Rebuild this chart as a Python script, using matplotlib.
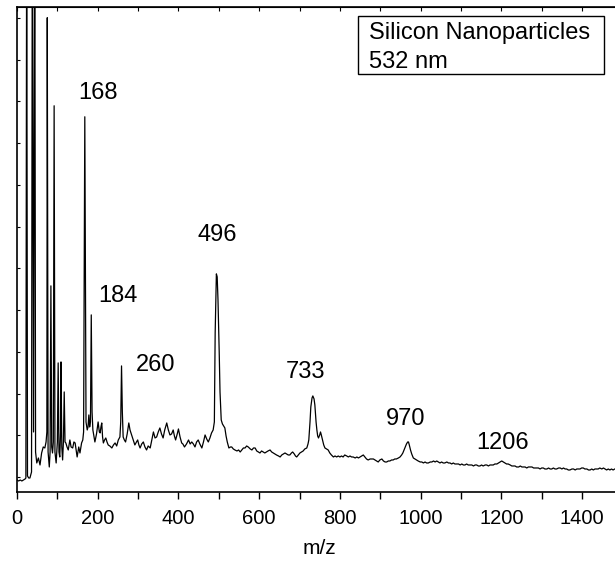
import matplotlib

matplotlib.use("Agg")
import matplotlib.pyplot as plt
import numpy as np
from matplotlib.patches import Rectangle

plt.rcParams["font.family"] = ["Liberation Sans", "DejaVu Sans"]

# spectrum: m/z and intensity (arbitrary units)
mz = [
    0, 4, 8, 12, 16, 20, 22, 24, 26, 29, 32, 36, 38, 41, 44, 46, 49, 53, 57, 61,
    65, 69, 72, 74, 75, 77, 80, 82, 84, 86, 88, 90, 92, 94, 97, 100, 102, 104, 106, 108,
    109, 111, 113, 115, 117, 119, 121, 124, 127, 131, 134, 138, 141, 144, 149, 153, 156, 160, 163, 165,
    168, 171, 174, 176, 178, 180, 182, 184, 186, 188, 191, 193, 197, 201, 204, 206, 208, 210, 212, 214,
    217, 220, 223, 226, 230, 235, 239, 243, 247, 251, 255, 257, 259, 261, 263, 266, 269, 273, 277, 280,
    284, 288, 292, 296, 299, 302, 305, 309, 313, 317, 321, 325, 330, 334, 338, 342, 346, 350, 354, 358,
    362, 366, 371, 375, 379, 383, 387, 390, 393, 397, 400, 404, 408, 411, 415, 420, 425, 429, 433, 437,
    441, 445, 449, 453, 458, 462, 466, 470, 474, 478, 482, 486, 489, 491, 494, 496, 498, 501, 503, 506,
    509, 512, 515, 518, 521, 525, 529, 532, 536, 540, 545, 549, 553, 557, 561, 565, 569, 573, 578, 582,
    586, 590, 594, 598, 602, 606, 610, 614, 618, 622, 627, 631, 635, 639, 643, 648, 652, 656, 660, 664,
    668, 672, 676, 680, 683, 687, 690, 693, 697, 701, 705, 709, 713, 718, 721, 723, 726, 728, 731, 733,
    736, 738, 741, 743, 745, 747, 750, 752, 754, 757, 760, 763, 767, 771, 775, 779, 784, 788, 792, 796,
    800, 804, 808, 812, 817, 821, 825, 829, 833, 838, 842, 846, 850, 854, 858, 862, 866, 870, 875, 879,
    883, 887, 891, 895, 899, 904, 908, 912, 916, 920, 924, 928, 932, 936, 940, 945, 949, 953, 956, 959,
    962, 965, 968, 970, 972, 975, 978, 982, 986, 990, 994, 999, 1003, 1007, 1011, 1015, 1019, 1024, 1028, 1032,
    1036, 1040, 1044, 1048, 1052, 1056, 1060, 1065, 1069, 1073, 1077, 1081, 1085, 1089, 1094, 1098, 1102, 1106, 1110, 1114,
    1118, 1122, 1127, 1131, 1135, 1139, 1143, 1147, 1151, 1155, 1160, 1164, 1168, 1172, 1176, 1180, 1184, 1189, 1193, 1197,
    1201, 1205, 1209, 1213, 1217, 1222, 1226, 1230, 1234, 1238, 1243, 1247, 1251, 1255, 1259, 1263, 1267, 1271, 1276, 1280,
    1284, 1288, 1292, 1296, 1300, 1304, 1308, 1313, 1317, 1321, 1325, 1329, 1333, 1337, 1342, 1346, 1350, 1354, 1358, 1362,
    1366, 1370, 1375, 1379, 1383, 1387, 1391, 1395, 1399, 1403, 1407, 1412, 1416, 1420, 1424, 1428, 1432, 1436, 1440, 1444,
    1449, 1453, 1457, 1461, 1465, 1469, 1473, 1477, 1481, 1486, 1490, 1495, 1500,
]
intensity = [
    12, 11, 12, 11, 12, 13, 14, 600, 16, 14, 14, 20, 600, 60, 600, 40, 29, 34, 27, 39,
    45, 44, 50, 60, 474, 40, 25, 40, 206, 45, 39, 50, 386, 40, 29, 50, 129, 40, 35, 60,
    130, 45, 32, 50, 100, 50, 49, 45, 42, 52, 45, 44, 50, 49, 35, 45, 39, 49, 52, 60,
    375, 70, 62, 65, 77, 65, 70, 177, 80, 62, 55, 50, 58, 70, 60, 59, 65, 69, 55, 49,
    52, 54, 50, 47, 46, 44, 47, 49, 46, 52, 55, 70, 126, 80, 55, 52, 50, 58, 69, 62,
    57, 52, 47, 50, 52, 47, 44, 48, 50, 45, 42, 46, 44, 52, 60, 54, 55, 60, 64, 58,
    54, 62, 69, 62, 57, 58, 62, 56, 52, 58, 63, 55, 49, 48, 45, 48, 52, 48, 50, 48,
    45, 50, 52, 48, 44, 50, 57, 53, 50, 54, 59, 62, 70, 159, 218, 215, 192, 140, 100, 72,
    68, 66, 64, 56, 50, 44, 45, 45, 43, 42, 41, 42, 40, 42, 44, 44, 46, 45, 43, 42,
    44, 44, 41, 40, 39, 41, 40, 39, 40, 41, 42, 40, 39, 38, 37, 36, 35, 37, 38, 39,
    38, 37, 37, 39, 40, 38, 36, 35, 37, 39, 40, 41, 43, 44, 48, 52, 70, 85, 94, 96,
    93, 87, 70, 62, 56, 54, 57, 60, 57, 52, 47, 44, 43, 42, 39, 37, 35, 36, 35, 36,
    35, 36, 35, 37, 36, 35, 36, 35, 35, 34, 35, 34, 35, 36, 37, 35, 33, 32, 33, 33,
    33, 32, 31, 30, 32, 33, 31, 30, 30, 31, 31, 32, 32, 33, 33, 34, 35, 37, 39, 42,
    45, 48, 50, 50, 47, 42, 38, 34, 33, 32, 31, 30, 30, 29, 30, 29, 29, 30, 30, 31,
    30, 31, 30, 29, 30, 29, 29, 30, 29, 29, 28, 29, 28, 28, 28, 27, 28, 27, 27, 28,
    27, 27, 27, 26, 27, 27, 26, 26, 27, 26, 27, 27, 26, 27, 27, 27, 28, 28, 29, 30,
    31, 30, 29, 28, 28, 27, 26, 26, 26, 25, 25, 26, 25, 25, 25, 24, 25, 25, 25, 24,
    24, 24, 24, 23, 24, 24, 23, 23, 24, 23, 23, 24, 23, 23, 24, 24, 23, 24, 23, 23,
    22, 22, 23, 23, 22, 23, 23, 23, 24, 24, 23, 23, 22, 22, 23, 22, 23, 23, 23, 24,
    23, 24, 23, 22, 23, 22, 23, 22, 23, 23, 22, 23, 23,
]

# annotated peaks: label text and where the label sits (m/z, intensity)
peak_labels = ["168", "184", "260", "496", "733", "970", "1206"]
label_mz = [201, 250, 344, 496, 715, 963, 1202]
label_y = [393, 190, 121, 251, 114, 67, 43]

legend_lines = ["Silicon Nanoparticles", "532 nm"]

W, H = 615, 565
fig = plt.figure(figsize=(W / 100, H / 100), dpi=100)
ax = fig.add_axes([17 / W, 73 / H, 1500 * 0.4036 / W, 485.3 / H])

ax.plot(mz, intensity, color="black", lw=0.9)
ax.set_xlim(0, 1500)
ax.set_ylim(0, 485)

for txt, x, y in zip(peak_labels, label_mz, label_y):
    ax.text(x, y, txt, ha="center", va="baseline", fontsize=17)

ax.set_xticks(np.arange(0, 1501, 200))
ax.set_xticks(np.arange(100, 1501, 200), minor=True)
ax.set_yticks(15 + 41.7 * np.arange(12))
ax.set_yticklabels([])
ax.tick_params(axis="x", which="both", direction="out", length=5, width=1,
               labelsize=14.5, pad=7)
ax.tick_params(axis="y", direction="in", length=2.5, width=0.8)
ax.set_xlabel("m/z", fontsize=15, labelpad=8)

# inward ticks along the top spine at every 100
top = ax.secondary_xaxis("top")
top.set_xticks(np.arange(0, 1501, 100))
top.tick_params(direction="in", length=3, width=0.8, labeltop=False)
top.set_xticklabels([])

for s in ax.spines.values():
    s.set_linewidth(1.2)

# boxed caption in the top right corner
fig.patches.append(Rectangle((358 / W, 1 - 74 / H), 246 / W, 58.3 / H,
                             transform=fig.transFigure, fill=False,
                             edgecolor="black", lw=1.0, zorder=5))
fig.text(369 / W, 1 - 39.5 / H, legend_lines[0], fontsize=17, va="baseline")
fig.text(369 / W, 1 - 68.5 / H, legend_lines[1], fontsize=17, va="baseline")

fig.savefig("out.png", dpi=100)
